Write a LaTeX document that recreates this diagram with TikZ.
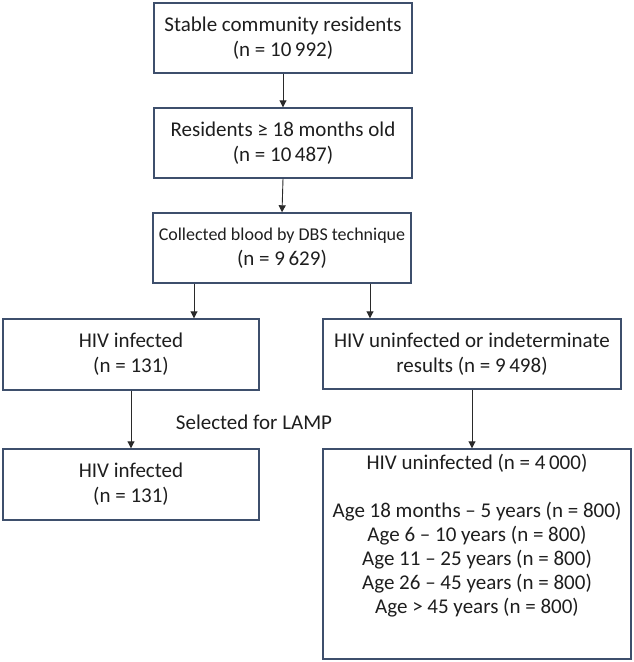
\documentclass[tikz,border=0pt]{standalone}
\usepackage{fontspec}
\setmainfont{Carlito}
\usetikzlibrary{arrows.meta}
\definecolor{boxc}{HTML}{3E4F6C}
\definecolor{txt}{HTML}{1E1E1E}
\definecolor{arrc}{HTML}{2A2A2A}
\begin{document}
\begin{tikzpicture}[x=1pt,y=-1pt,
  font=\fontsize{21}{25}\selectfont,
  box/.style={draw=boxc, line width=1.4pt, inner sep=0pt, align=center, text=txt},
  arr/.style={draw=arrc, line width=0.9pt, -{Triangle[length=7pt,width=7pt]}},
  lbl/.style={align=center, text=txt, inner sep=0pt}]
\useasboundingbox (0,0) rectangle (633,662);
\node[box, minimum width=258pt, minimum height=70pt] (b1) at (283,38) {Stable community residents\\(n = 10\,992)};
\node[box, minimum width=258pt, minimum height=70pt] (b2) at (283,143) {Residents ≥ 18 months old\\(n = 10\,487)};
\node[box, minimum width=258pt, minimum height=70pt] (b3) at (282,248) {{\fontsize{18}{25}\selectfont Collected blood by DBS technique}\\(n = 9\,629)};
\node[box, minimum width=256pt, minimum height=71pt] (b4) at (131,354.5) {HIV infected\\(n = 131)};
\node[box, minimum width=298pt, minimum height=70pt] (b5) at (472,354) {HIV uninfected or indeterminate\\results (n = 9\,498)};
\node[box, minimum width=256pt, minimum height=71pt] (b6) at (131,484.5) {HIV infected\\(n = 131)};
\node[box, minimum width=308pt, minimum height=210pt] (b7) at (477,554) {};
\node[lbl, font=\fontsize{21}{24}\selectfont] (b7t) at (477,536) {HIV uninfected (n = 4\,000)\\[24pt]Age 18 months – 5 years (n = 800)\\Age 6 – 10 years (n = 800)\\Age 11 – 25 years (n = 800)\\Age 26 – 45 years (n = 800)\\Age > 45 years (n = 800)};
\node[lbl] (sel) at (254,422) {Selected for LAMP};
\draw[arr] (b1.south) -- (b2.north);
\draw[arr] (b2.south) -- (b3.north);
\draw[arr] ([xshift=-88pt]b3.south) -- ([xshift=-88pt]b3.south |- b4.north);
\draw[arr] ([xshift=88pt]b3.south) -- ([xshift=88pt]b3.south |- b5.north);
\draw[arr] (b4.south) -- (b6.north);
\draw[arr] (b5.south) -- (b5.south |- b7.north);
\end{tikzpicture}
\end{document}
